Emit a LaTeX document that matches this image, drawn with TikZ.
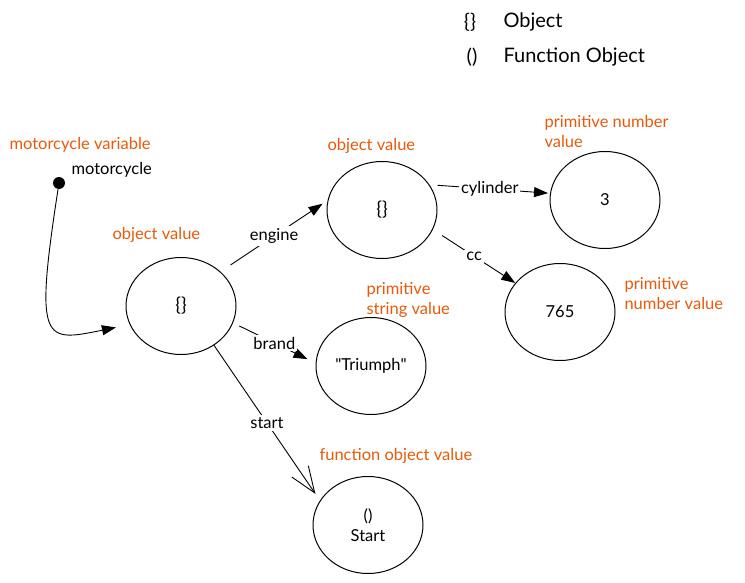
\documentclass[tikz,border=0pt]{standalone}
\usepackage{fontspec}
\setmainfont{Lato}
\usetikzlibrary{shapes.geometric, arrows.meta}
\definecolor{noteorange}{HTML}{E8590C}

\begin{document}
\begin{tikzpicture}[
				x=1pt, y=-1pt,
				every node/.style={font=\fontsize{16.5}{20}\selectfont},
				valuenode/.style={ellipse, draw=black, line width=1pt, minimum width=110pt, minimum height=97pt, inner sep=0pt, align=center},
				objnode/.style={valuenode, font=\fontsize{19}{22}\selectfont},
				note/.style={text=noteorange, anchor=west, align=left},
				keynode/.style={font=\fontsize{20}{24}\selectfont},
				link/.style={line width=0.9pt, -{Triangle[length=14pt, width=10pt]}},
				linklabel/.style={fill=white, inner sep=2pt}
			]

			\useasboundingbox (0,0) rectangle (745,583);

			\node[objnode] (obj-main) at (181,306) {\{\}};
			\node[objnode] (obj-engine) at (382,210) {\{\}};
			\node[valuenode] (num-cyl) at (605,200) {3};
			\node[valuenode] (num-cc) at (560,312) {765};
			\node[valuenode] (str-brand) at (371,366) {\textquotedbl Triumph\textquotedbl};
			\node[valuenode] (fn-start) at (368,525) {()\\Start};

			\node[circle, fill=black, minimum size=12pt, inner sep=0pt] (var-dot) at (59,183) {};
			\node[anchor=west] (var-name) at (68,170) {motorcycle};

			\node[note] (note-var) at (6,145) {motorcycle variable};
			\node[note] (note-main) at (109,235) {object value};
			\node[note] (note-engine) at (324,146) {object value};
			\node[note] (note-cyl) at (541,131) {primitive number\\value};
			\node[note] (note-brand) at (363,300) {primitive\\string value};
			\node[note] (note-cc) at (621,294) {primitive\\number value};
			\node[note] (note-start) at (316,456) {function object value};

			\node[keynode] (key-obj) at (470,22) {\{\}};
			\node[keynode, anchor=west] (key-obj-text) at (500,22) {Object};
			\node[keynode] (key-fn) at (472,57) {()};
			\node[keynode, anchor=west] (key-fn-text) at (500,57) {Function Object};

			\draw[link, shorten >=14pt] (var-dot) .. controls (34,345) and (44,342) .. (obj-main.200);

			\draw[link, shorten <=12pt, shorten >=6pt] (obj-main.41) -- node[linklabel] {engine} (obj-engine.170);
			\draw[link, shorten <=7pt, shorten >=9pt] (obj-main.-18) -- node[linklabel] {brand} (str-brand.177);
			\draw[line width=0.9pt, -{Straight Barb[length=26pt, width=20pt]}, shorten >=8pt] (obj-main.-50) -- node[linklabel] {start} (fn-start.153);
			\draw[link, shorten <=8pt, shorten >=2pt] (obj-engine.28) -- node[linklabel] {cylinder} (num-cyl.173);
			\draw[link, shorten <=11pt] (obj-engine.-21) -- node[linklabel] {cc} (num-cc.147);

		\end{tikzpicture}
\end{document}
